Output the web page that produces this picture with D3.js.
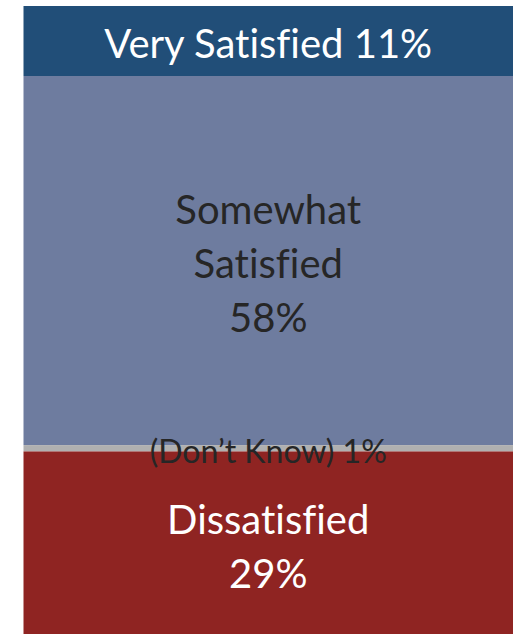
<!DOCTYPE html>
<html lang="en">
<head>
    <meta charset="UTF-8">
    <title>Satisfaction stacked bar (D3.js)</title>
    <script src="https://d3js.org/d3.v7.min.js"></script>
    <style>
        body { margin: 0; background: #fff; }
        text { font-variant-ligatures: none; }
    </style>
</head>
<body>
    <svg width="514" height="634" id="chart"></svg>

    <script>
        // Data: one 100% stacked column, top to bottom
        const categories = ["Very Satisfied", "Somewhat Satisfied", "Don't Know", "Dissatisfied"];
        const values = [11, 58, 1, 29];
        const labelLines = [
            ["Very Satisfied 11%"],
            ["Somewhat", "Satisfied", "58%"],
            ["(Don\u2019t Know) 1%"],
            ["Dissatisfied", "29%"]
        ];

        const colors = ["#214e78", "#6e7c9f", "#b0b0b0", "#8f2422"];
        const textColors = ["#ffffff", "#262626", "#262626", "#ffffff"];
        const fontSizes = [40, 40, 32, 40];

        const svg = d3.select("#chart");
        const barLeft = 23.5, barRight = 513;
        const barTop = 6, barBottom = 636;
        const lineHeight = 54;

        // Cumulative offsets for stacking
        let acc = 0;
        const segments = values.map((v, i) => {
            const s = { cat: categories[i], y0: acc, y1: acc + v, lines: labelLines[i], i };
            acc += v;
            return s;
        });

        const y = d3.scaleLinear().domain([0, d3.sum(values)]).range([barTop, barBottom]);
        const color = d3.scaleOrdinal().domain(categories).range(colors);

        svg.selectAll("rect")
            .data(segments)
            .enter()
            .append("rect")
            .attr("x", barLeft)
            .attr("width", barRight - barLeft)
            .attr("y", d => y(d.y0))
            .attr("height", d => y(d.y1) - y(d.y0))
            .attr("fill", d => color(d.cat));

        // Labels centred in each segment
        const labels = svg.selectAll("g.label")
            .data(segments)
            .enter()
            .append("g")
            .attr("class", "label")
            .attr("transform", d => `translate(${(barLeft + barRight) / 2},${(y(d.y0) + y(d.y1)) / 2 + 2})`);

        labels.selectAll("text")
            .data(d => d.lines.map((t, k) => ({ t, k, n: d.lines.length, i: d.i })))
            .enter()
            .append("text")
            .attr("text-anchor", "middle")
            .attr("dominant-baseline", "central")
            .attr("y", d => (d.k - (d.n - 1) / 2) * lineHeight)
            .attr("font-family", "Lato, 'Open Sans', sans-serif")
            .attr("font-size", d => fontSizes[d.i])
            .attr("fill", d => textColors[d.i])
            .text(d => d.t);
    </script>
</body>
</html>
